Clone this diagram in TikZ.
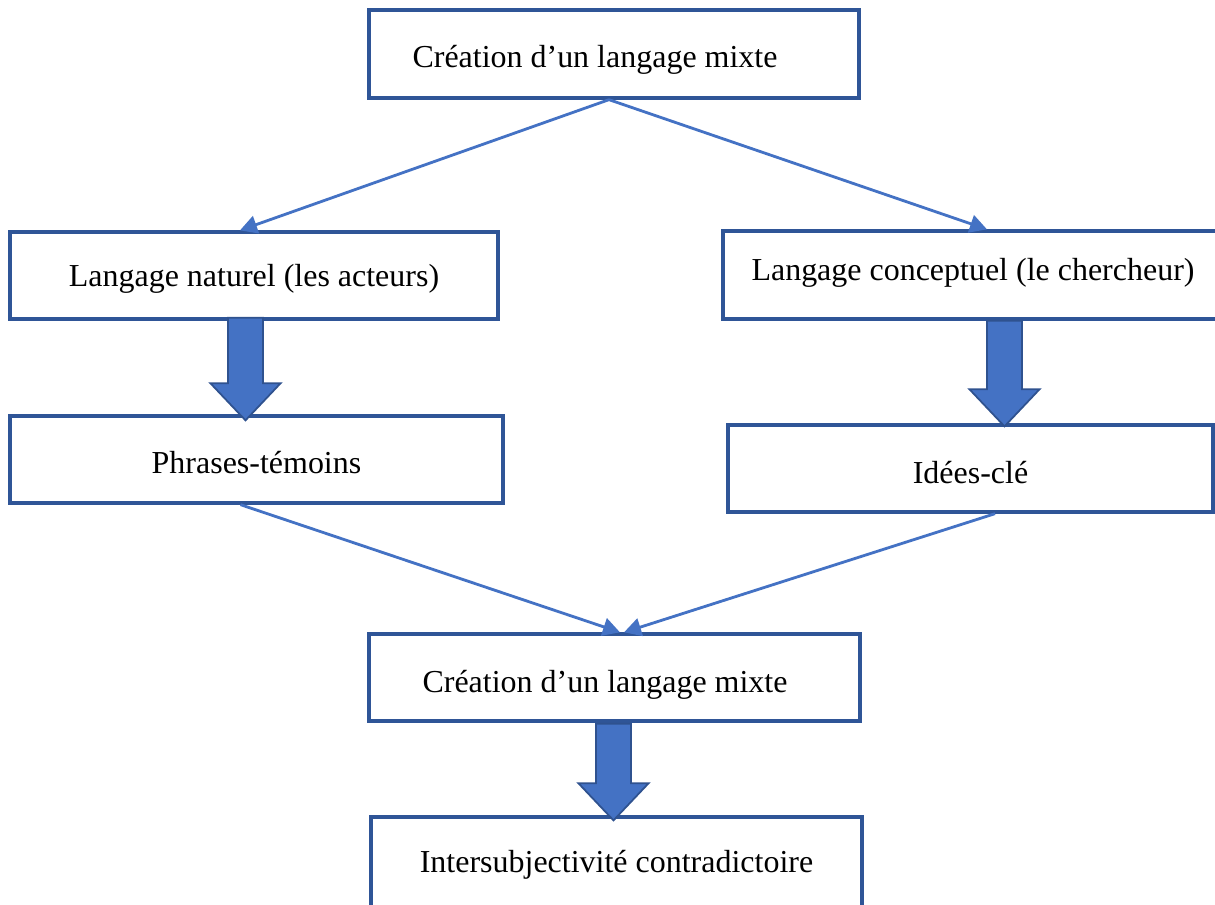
\documentclass[tikz,border=0pt]{standalone}
\usepackage{fontspec}
\setmainfont{Liberation Serif}
\usetikzlibrary{arrows.meta,calc}

\definecolor{boxblue}{HTML}{2F5597}
\definecolor{linkblue}{HTML}{4472C4}
\definecolor{fatedge}{HTML}{2F528F}

% baseline placed #1 below the centre of the box
\newcommand{\basetext}[2]{\raisebox{-#1}[0pt][0pt]{#2}}

\tikzset{
  box/.style={draw=boxblue, line width=1.9pt, inner sep=0pt,
    font=\fontsize{18.2}{22}\selectfont},
  link/.style={draw=linkblue, line width=1.6pt,
    -{Triangle[length=0.34cm,width=0.36cm]}},
  fat/.style={fill=linkblue, draw=fatedge, line width=1pt, line join=miter,
    to path={let \p1=(\tikztostart), \p2=(\tikztotarget) in
      (\x1-0.35cm,\y1) -- (\x1+0.35cm,\y1) -- (\x1+0.35cm,\y2+0.74cm)
      -- (\x1+0.7cm,\y2+0.74cm) -- (\x2,\y2) -- (\x1-0.7cm,\y2+0.74cm)
      -- (\x1-0.35cm,\y2+0.74cm) -- cycle}}
}

\begin{document}
\begin{tikzpicture}[x=0.02cm, y=-0.02cm]
        \useasboundingbox (0,0) rectangle (1215,904);
        \clip (0,0) rectangle (1215,904);

        \node[box, minimum width=9.8cm, minimum height=1.76cm] at (614, 54) (top) {\hspace*{-0.76cm}\basetext{0.27cm}{Création d’un langage mixte}};
        \node[box, minimum width=9.76cm, minimum height=1.74cm] at (254, 275.5) (naturel) {\basetext{0.22cm}{Langage naturel (les acteurs)}};
        \node[box, minimum width=10cm, minimum height=1.76cm] at (973, 275) (conceptuel) {\basetext{0.1cm}{Langage conceptuel (le chercheur)}};
        \node[box, minimum width=9.86cm, minimum height=1.74cm] at (256.5, 459.5) (phrases) {\basetext{0.27cm}{Phrases-témoins}};
        \node[box, minimum width=9.7cm, minimum height=1.74cm] at (970.5, 468.5) (idees) {\basetext{0.29cm}{Idées-clé}};
        \node[box, minimum width=9.82cm, minimum height=1.74cm] at (614.5, 677.5) (mixte) {\hspace*{-0.38cm}\basetext{0.3cm}{Création d’un langage mixte}};
        \node[box, minimum width=9.82cm, minimum height=2.2cm] at (616.5, 872) (inter) {\basetext{0cm}{Intersubjectivité contradictoire}};

        \draw[link] ($(top.south)+(-5,0)$) -- ($(naturel.north)+(-14,0)$);
        \draw[link] ($(top.south)+(-5,0)$) -- ($(conceptuel.north)+(14,0)$);
        \draw[link] ($(phrases.south)+(-16,0)$) -- ($(mixte.north)+(5.5,0)$);
        \draw[link] ($(idees.south)+(24.5,0)$) -- ($(mixte.north)+(9.5,0)$);

        \draw[fat] ($(naturel.south)+(-8.5,-3)$) to ($(phrases.north)+(-11,6)$);
        \draw[fat] ($(conceptuel.south)+(31.5,0)$) to ($(idees.north)+(34,3)$);
        \draw[fat] ($(mixte.south)+(-1,1)$) to ($(inter.north)+(-3,5)$);

        \end{tikzpicture}
\end{document}
